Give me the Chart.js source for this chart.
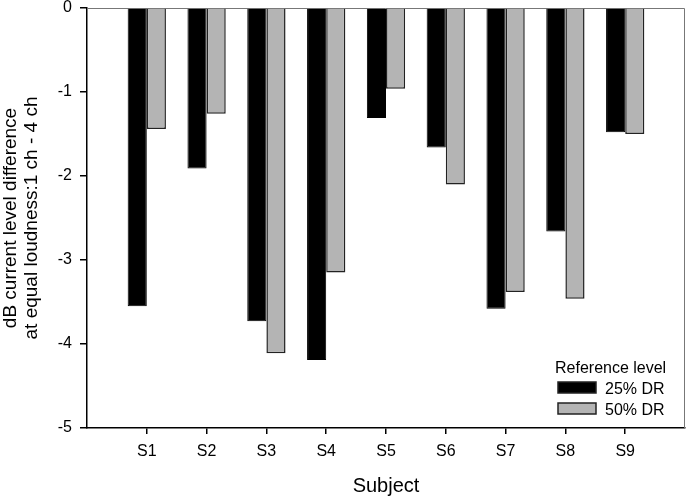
<!DOCTYPE html>
<html>
<head>
<meta charset="utf-8">
<script src="https://cdn.jsdelivr.net/npm/chart.js@4"></script>
<style>
  html, body { margin: 0; padding: 0; background: #fff; }
  #wrap { width: 688px; height: 500px; position: relative; }
</style>
</head>
<body>
<div id="wrap"><canvas id="chart"></canvas></div>
<script>
// Data
const subjects = ["S1", "S2", "S3", "S4", "S5", "S6", "S7", "S8", "S9"];
const dr25 = [-3.55, -1.91, -3.73, -4.19, -1.31, -1.66, -3.58, -2.66, -1.48];
const dr50 = [-1.44, -1.26, -4.11, -3.15, -0.96, -2.10, -3.38, -3.46, -1.50];
const yTicks = [0, -1, -2, -3, -4, -5];
const seriesLabels = ["25% DR", "50% DR"];
const legendTitle = "Reference level";

const FONT = "'Liberation Sans', Arial, sans-serif";

// thin grey frame on top and right of the plot
const frame = {
  id: "frame",
  beforeDatasetsDraw(chart) {
    const c = chart.ctx, a = chart.chartArea;
    c.save();
    c.strokeStyle = "#777";
    c.lineWidth = 1;
    c.beginPath();
    c.moveTo(a.left, a.top + 0.5);
    c.lineTo(a.right - 0.5, a.top + 0.5);
    c.lineTo(a.right - 0.5, a.bottom);
    c.stroke();
    c.restore();
  }
};

// legend sitting inside the plot, bottom right
const insideLegend = {
  id: "insideLegend",
  afterDraw(chart) {
    const c = chart.ctx, a = chart.chartArea;
    c.save();
    c.font = "16px " + FONT;
    c.fillStyle = "#000";
    c.textBaseline = "alphabetic";
    c.fillText(legendTitle, a.right - 130, a.bottom - 55);
    chart.data.datasets.forEach((ds, i) => {
      const y = a.bottom - 46 + i * 21;
      c.fillStyle = ds.backgroundColor;
      c.fillRect(a.right - 127, y, 38, 11);
      c.strokeStyle = "#222";
      c.lineWidth = 1.5;
      c.strokeRect(a.right - 127, y, 38, 11);
      c.fillStyle = "#000";
      c.fillText(ds.label, a.right - 80, y + 12);
    });
    c.restore();
  }
};

const chart = new Chart(document.getElementById("chart").getContext("2d"), {
  type: "bar",
  data: {
    datasets: [
      {
        label: seriesLabels[0],
        data: subjects.map((s, i) => ({ x: i + 1, y: dr25[i] })),
        backgroundColor: "#000000",
        borderColor: "#000000",
        borderWidth: 1,
      },
      {
        label: seriesLabels[1],
        data: subjects.map((s, i) => ({ x: i + 1, y: dr50[i] })),
        backgroundColor: "#b4b4b4",
        borderColor: "#222222",
        borderWidth: 1.5,
      },
    ],
  },
  options: {
    responsive: true,
    maintainAspectRatio: false,
    animation: false,
    categoryPercentage: 0.64,
    barPercentage: 1.0,
    layout: { padding: { top: 8, right: 3, left: 0, bottom: 0 } },
    plugins: {
      legend: { display: false },
      tooltip: { enabled: false },
    },
    scales: {
      x: {
        type: "linear",
        min: 0,
        max: 10,
        offset: false,
        afterBuildTicks: (scale) => {
          scale.ticks = subjects.map((s, i) => ({ value: i + 1 }));
        },
        afterFit: (scale) => {
          scale.height = 72;
          scale.paddingLeft = 0;
          scale.paddingRight = 0;
        },
        ticks: {
          autoSkip: false,
          maxRotation: 0,
          padding: 8,
          color: "#000",
          font: { family: FONT, size: 16 },
          callback: (v) => subjects[v - 1],
        },
        grid: { offset: false, drawOnChartArea: false, tickLength: 6, color: "#000", lineWidth: 1.5 },
        border: { color: "#000", width: 1.5 },
        title: {
          display: true,
          text: "Subject",
          color: "#000",
          font: { family: FONT, size: 20 },
          padding: { top: 0, bottom: 2 },
        },
      },
      y: {
        min: -5,
        max: 0,
        afterBuildTicks: (scale) => {
          scale.ticks = yTicks.map((v) => ({ value: v }));
        },
        afterFit: (scale) => {
          scale.width = 87;
          scale.paddingTop = 0;
          scale.paddingBottom = 0;
        },
        ticks: {
          padding: 8,
          color: "#000",
          font: { family: FONT, size: 16 },
        },
        grid: { drawOnChartArea: false, tickLength: 7, color: "#000", lineWidth: 1.5 },
        border: { color: "#000", width: 1.5 },
        title: {
          display: true,
          text: ["dB current level difference", "at equal loudness:1 ch - 4 ch"],
          color: "#000",
          font: { family: FONT, size: 19, lineHeight: 1.08 },
          padding: { top: 1, bottom: 0 },
        },
      },
    },
  },
  plugins: [frame, insideLegend],
});
</script>
</body>
</html>
